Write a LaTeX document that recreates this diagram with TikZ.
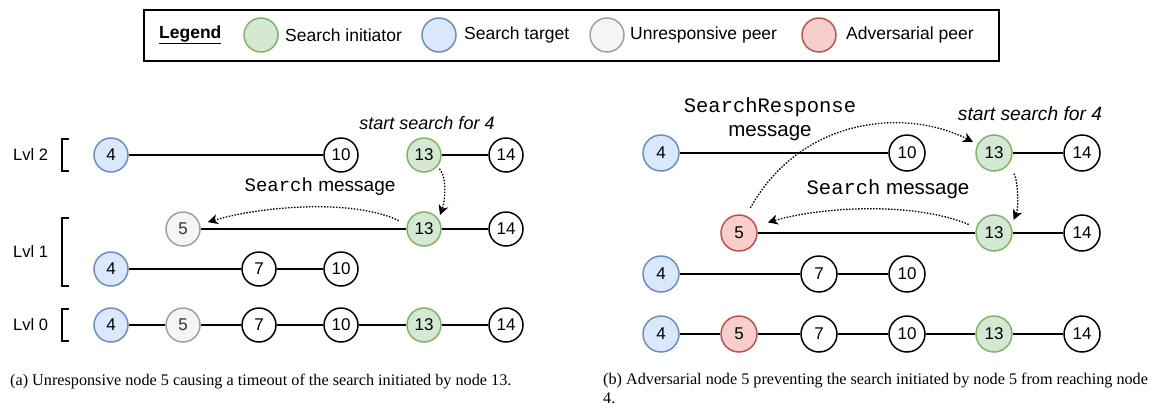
\documentclass[tikz,border=0pt]{standalone}
\usepackage{fontspec}
\setmainfont{Liberation Sans}
\setmonofont{Liberation Mono}
\newfontfamily\capfont{Liberation Serif}
\usetikzlibrary{arrows.meta}
\definecolor{gfill}{HTML}{D5E8D4}\definecolor{gdraw}{HTML}{82B366}
\definecolor{bfill}{HTML}{DAE8FC}\definecolor{bdraw}{HTML}{6C8EBF}
\definecolor{ufill}{HTML}{F5F5F5}\definecolor{udraw}{HTML}{A0A0A0}\definecolor{utext}{HTML}{333333}
\definecolor{rfill}{HTML}{F8CECC}\definecolor{rdraw}{HTML}{B85450}
\tikzset{
  peer/.style={circle, draw=black, fill=white, line width=1.5pt, minimum size=34pt, inner sep=0pt, font=\fontsize{17}{20}\selectfont},
  peerb/.style={peer, minimum size=36pt},
  init/.style={fill=gfill, draw=gdraw},
  targ/.style={fill=bfill, draw=bdraw},
  unre/.style={fill=ufill, draw=udraw, text=utext},
  adv/.style={fill=rfill, draw=rdraw},
  link/.style={line width=1.8pt},
  msg/.style={line width=1.3pt, dash pattern=on 1.5pt off 1.5pt, -{Stealth[length=10pt,width=10pt,inset=3pt]}},
  lbl/.style={font=\fontsize{19}{22}\selectfont, inner sep=0pt},
  lblb/.style={font=\fontsize{20.5}{24}\selectfont, inner sep=0pt},
  lvl/.style={font=\fontsize{16.5}{19}\selectfont, anchor=west, inner sep=0pt},
  brk/.style={line width=1.5pt},
  leg/.style={font=\fontsize{17.5}{20}\selectfont, anchor=west, inner sep=0pt},
  figcap/.style={font=\capfont\fontsize{16.2}{19}\selectfont, anchor=base west, inner sep=0pt, align=left},
}
\begin{document}
\begin{tikzpicture}[x=1pt,y=-1pt]
\useasboundingbox (0,0) rectangle (1161,408);
% Legend
\node[draw, line width=2pt, minimum width=855pt, minimum height=51pt, anchor=north west, inner sep=0pt] (legbox) at (143,9) {};
\node[leg] (legt) at (159,35) {\underline{\textbf{Legend}}};
\node[peer, init] (lg1) at (261,35) {};
\node[leg] (lg1t) at (285,35) {Search initiator};
\node[peer, targ] (lg2) at (439,35) {};
\node[leg] (lg2t) at (464,35) {Search target};
\node[peer, unre] (lg3) at (607,35) {};
\node[leg] (lg3t) at (630,35) {Unresponsive peer};
\node[peer, adv] (lg4) at (819,35) {};
\node[leg] (lg4t) at (846,35) {Adversarial peer};

% ===== Panel (a) =====
\node[lvl] (lv2) at (13,155) {Lvl 2};
\node[lvl] (lv1) at (13,252) {Lvl 1};
\node[lvl] (lv0) at (13,325) {Lvl 0};
\coordinate (b2t) at (62,139); \coordinate (b2b) at (62,171);
\coordinate (b1t) at (62,218); \coordinate (b1b) at (62,286);
\coordinate (b0t) at (62,309); \coordinate (b0b) at (62,341);
\draw[brk] ([xshift=7pt]b2t) -- (b2t) -- (b2b) -- ([xshift=7pt]b2b);
\draw[brk] ([xshift=7pt]b1t) -- (b1t) -- (b1b) -- ([xshift=7pt]b1b);
\draw[brk] ([xshift=7pt]b0t) -- (b0t) -- (b0b) -- ([xshift=7pt]b0b);

\node[peer, targ] (a2n4) at (111,155) {4};
\node[peer] (a2n10) at (341,155) {10};
\node[peer, init] (a2n13) at (424,155) {13};
\node[peer] (a2n14) at (506,155) {14};

\node[peer, unre] (a1n5) at (183,229) {5};
\node[peer, init] (a1n13) at (424,229) {13};
\node[peer] (a1n14) at (506,229) {14};

\node[peer, targ] (a1bn4) at (111,269) {4};
\node[peer] (a1bn7) at (259,269) {7};
\node[peer] (a1bn10) at (341,269) {10};

\node[peer, targ] (a0n4) at (111,325) {4};
\node[peer, unre] (a0n5) at (183,325) {5};
\node[peer] (a0n7) at (259,325) {7};
\node[peer] (a0n10) at (341,325) {10};
\node[peer, init] (a0n13) at (424,325) {13};
\node[peer] (a0n14) at (506,325) {14};

\draw[link] (a2n4) -- (a2n10);
\draw[link] (a2n13) -- (a2n14);
\draw[link] (a1n5) -- (a1n13);
\draw[link] (a1n13) -- (a1n14);
\draw[link] (a1bn4) -- (a1bn7);
\draw[link] (a1bn7) -- (a1bn10);
\draw[link] (a0n4) -- (a0n5);
\draw[link] (a0n5) -- (a0n7);
\draw[link] (a0n7) -- (a0n10);
\draw[link] (a0n10) -- (a0n13);
\draw[link] (a0n13) -- (a0n14);

\node[lbl, font=\fontsize{18}{22}\selectfont\itshape] (ast) at (427,123) {start search for 4};
\node[lbl] (asm) at (320,187) {\texttt{Search} message};
\draw[msg, shorten <=3pt, shorten >=4pt] (a2n13.-40) .. controls +(10,12) and +(6,-16) .. (a1n13.35);
\draw[msg, shorten <=9pt, shorten >=8pt] (a1n13.165) .. controls +(-55,-26) and +(60,-18) .. (a1n5.15);

\node[figcap] (capa) at (10,385) {(a) Unresponsive node 5 causing a timeout of the search initiated by node 13.};

% ===== Panel (b) =====
\node[peerb, targ] (b2n4) at (661,153) {4};
\node[peerb] (b2n10) at (907,153) {10};
\node[peerb, init] (b2n13) at (994,153) {13};
\node[peerb] (b2n14) at (1082,153) {14};

\node[peerb, adv] (b1n5) at (739,233) {5};
\node[peerb, init] (b1n13) at (994,233) {13};
\node[peerb] (b1n14) at (1082,233) {14};

\node[peerb, targ] (b1bn4) at (661,274) {4};
\node[peerb] (b1bn7) at (819,274) {7};
\node[peerb] (b1bn10) at (907,274) {10};

\node[peerb, targ] (b0n4) at (661,334) {4};
\node[peerb, adv] (b0n5) at (739,334) {5};
\node[peerb] (b0n7) at (819,334) {7};
\node[peerb] (b0n10) at (907,334) {10};
\node[peerb, init] (b0n13) at (994,334) {13};
\node[peerb] (b0n14) at (1082,334) {14};

\draw[link] (b2n4) -- (b2n10);
\draw[link] (b2n13) -- (b2n14);
\draw[link] (b1n5) -- (b1n13);
\draw[link] (b1n13) -- (b1n14);
\draw[link] (b1bn4) -- (b1bn7);
\draw[link] (b1bn7) -- (b1bn10);
\draw[link] (b0n4) -- (b0n5);
\draw[link] (b0n5) -- (b0n7);
\draw[link] (b0n7) -- (b0n10);
\draw[link] (b0n10) -- (b0n13);
\draw[link] (b0n13) -- (b0n14);

\node[lblb] (bsr) at (770,107) {\texttt{SearchResponse}};
\node[lblb] (bsrm) at (770,133) {message};
\node[lblb, font=\fontsize{19.2}{23}\selectfont\itshape] (bst) at (1030,114) {start search for 4};
\node[lblb] (bsm) at (888,189) {\texttt{Search} message};

\draw[msg, shorten <=9pt, shorten >=5pt] (b1n5.68) .. controls +(55,-98) and +(-73,-37) .. (b2n13.152);
\draw[msg, shorten <=10pt, shorten >=6pt] (b2n13.-44) .. controls +(10,12) and +(8,-18) .. (b1n13.24);
\draw[msg, shorten <=8pt, shorten >=12pt] (b1n13.163) .. controls +(-60,-25) and +(70,-20) .. (b1n5.23);

\node[figcap] (capb) at (603,403) {(b) Adversarial node 5 preventing the search initiated by node 5 from reaching node\\4.};
\end{tikzpicture}
\end{document}
